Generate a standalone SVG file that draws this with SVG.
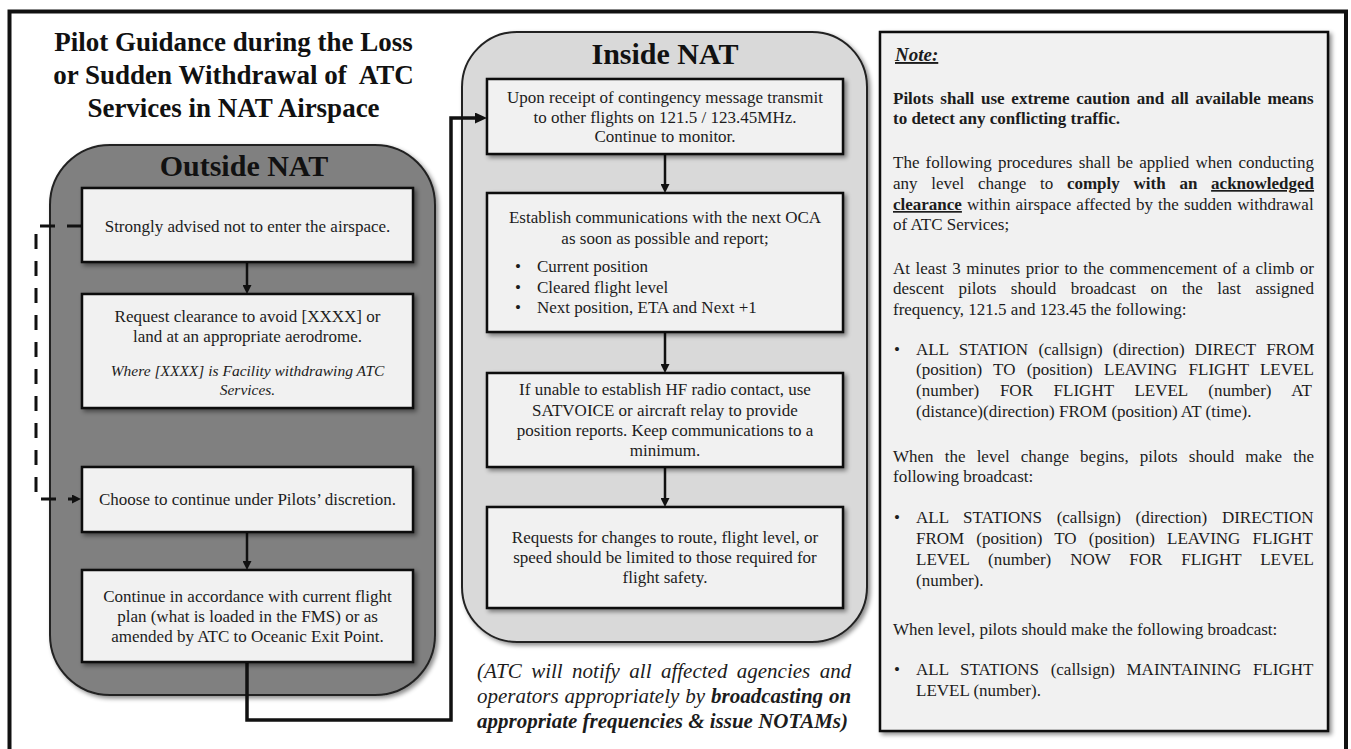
<svg xmlns="http://www.w3.org/2000/svg" width="1351" height="749" viewBox="0 0 1351 749">
<style>
.t{font-family:"Liberation Serif","Times New Roman",serif;fill:#1c1c1c;font-size:17px}
.b{font-weight:bold}
.i{font-style:italic}
.c{text-anchor:middle}
.h27{font-size:27px;fill:#111}
.h30{font-size:30px;fill:#111}
.s15{font-size:15.5px}
.s19{font-size:19px}
.s21{font-size:21px}
.box{fill:#f1f1f1;stroke:#111;stroke-width:2.5;filter:url(#sh)}
.cn{fill:none;stroke:#111;stroke-linejoin:miter}
.u{text-decoration:underline}
</style>
<defs>
<filter id="sh" x="-10%" y="-10%" width="130%" height="130%">
<feDropShadow dx="2.5" dy="2.5" stdDeviation="2" flood-color="#000" flood-opacity="0.45"/>
</filter>
<marker id="sa" viewBox="0 0 9 9" markerWidth="9" markerHeight="9" refX="1" refY="4.5" orient="auto" markerUnits="userSpaceOnUse">
<path d="M0,0 L9,4.5 L0,9 z" fill="#111"/>
</marker>
<marker id="la" viewBox="0 0 12 11" markerWidth="12" markerHeight="11" refX="1" refY="5.5" orient="auto" markerUnits="userSpaceOnUse">
<path d="M0,0 L12,5.5 L0,11 z" fill="#111"/>
</marker>
</defs>
<rect width="1351" height="749" fill="#fff"/>
<rect id="frame" x="9.5" y="11.5" width="1336.5" height="800" fill="none" stroke="#111" stroke-width="4"/>

<g id="title">
<text class="t b c h27" x="233.5" y="51">Pilot Guidance during the Loss</text>
<text class="t b c h27" x="233.5" y="84" xml:space="preserve">or Sudden Withdrawal of  ATC</text>
<text class="t b c h27" x="233.5" y="117">Services in NAT Airspace</text>
</g>

<g id="outside-nat">
<rect x="50" y="145" width="385" height="550" rx="60" ry="60" fill="#808080" stroke="#222" stroke-width="2" filter="url(#sh)"/>
<text class="t b c h30" x="244" y="176">Outside NAT</text>
</g>

<g id="inside-nat">
<rect x="462" y="32" width="405" height="610" rx="55" ry="55" fill="#d9d9d9" stroke="#222" stroke-width="2" filter="url(#sh)"/>
<text class="t b c h30" x="665" y="64">Inside NAT</text>
</g>

<g id="connectors">
<path class="cn" d="M247,262 V286" stroke-width="2.5" marker-end="url(#sa)"/>
<path class="cn" d="M247,532 V562" stroke-width="2.5" marker-end="url(#sa)"/>
<path class="cn" d="M665,154 V185" stroke-width="2.5" marker-end="url(#sa)"/>
<path class="cn" d="M665,332 V365" stroke-width="2.5" marker-end="url(#sa)"/>
<path class="cn" d="M665,467 V499" stroke-width="2.5" marker-end="url(#sa)"/>
<path class="cn" d="M82,226 H36 V499 H73" stroke-width="3" stroke-dasharray="15 12" marker-end="url(#sa)"/>
<path class="cn" d="M247,662 V720 H451 V118 H476" stroke-width="3.5" marker-end="url(#la)"/>
</g>

<g id="o1">
<rect class="box" x="82" y="188" width="331" height="74"/>
<text class="t c" x="247.5" y="232">Strongly advised not to enter the airspace.</text>
</g>
<g id="o2">
<rect class="box" x="82" y="294" width="331" height="114"/>
<text class="t c" x="247.5" y="322">Request clearance to avoid [XXXX] or</text>
<text class="t c" x="247.5" y="342">land at an appropriate aerodrome.</text>
<text class="t c i s15" x="247.5" y="376">Where [XXXX] is Facility withdrawing ATC</text>
<text class="t c i s15" x="247.5" y="395">Services.</text>
</g>
<g id="o3">
<rect class="box" x="82" y="467" width="331" height="65"/>
<text class="t c" x="247.5" y="505">Choose to continue under Pilots’ discretion.</text>
</g>
<g id="o4">
<rect class="box" x="82" y="570" width="331" height="92"/>
<text class="t c" x="247.5" y="602">Continue in accordance with current flight</text>
<text class="t c" x="247.5" y="622">plan (what is loaded in the FMS) or as</text>
<text class="t c" x="247.5" y="642">amended by ATC to Oceanic Exit Point.</text>
</g>

<g id="i1">
<rect class="box" x="487" y="79" width="356" height="75"/>
<text class="t c" x="665" y="103">Upon receipt of contingency message transmit</text>
<text class="t c" x="665" y="123">to other flights on 121.5 / 123.45MHz.</text>
<text class="t c" x="665" y="142">Continue to monitor.</text>
</g>
<g id="i2">
<rect class="box" x="487" y="193" width="356" height="139"/>
<text class="t c" x="665" y="223">Establish communications with the next OCA</text>
<text class="t c" x="665" y="244">as soon as possible and report;</text>
<text class="t" x="515" y="272">•</text><text class="t" x="537" y="272">Current position</text>
<text class="t" x="515" y="293">•</text><text class="t" x="537" y="293">Cleared flight level</text>
<text class="t" x="515" y="313">•</text><text class="t" x="537" y="313">Next position, ETA and Next +1</text>
</g>
<g id="i3">
<rect class="box" x="487" y="373" width="356" height="94"/>
<text class="t c" x="665" y="395">If unable to establish HF radio contact, use</text>
<text class="t c" x="665" y="415.5">SATVOICE or aircraft relay to provide</text>
<text class="t c" x="665" y="436">position reports. Keep communications to a</text>
<text class="t c" x="665" y="456">minimum.</text>
</g>
<g id="i4">
<rect class="box" x="487" y="507" width="356" height="101"/>
<text class="t c" x="665" y="543">Requests for changes to route, flight level, or</text>
<text class="t c" x="665" y="563">speed should be limited to those required for</text>
<text class="t c" x="665" y="583">flight safety.</text>
</g>

<g id="atc-note">
<text class="t i s21" x="477" y="678" word-spacing="4.17">(ATC will notify all affected agencies and</text>
<text class="t i s21" x="477" y="703" word-spacing="0.7">operators appropriately by <tspan class="b">broadcasting on</tspan></text>
<text class="t i b s21" x="477" y="728">appropriate frequencies &amp; issue NOTAMs)</text>
</g>

<g id="note">
<rect class="box" x="880" y="32" width="448" height="699" stroke-width="2.5"/>
<text class="t b i u s19" x="895" y="61">Note:</text>
<text class="t b" x="893" y="104" word-spacing="2.45">Pilots shall use extreme caution and all available means</text>
<text class="t b" x="893" y="124">to detect any conflicting traffic.</text>
<text class="t" x="893" y="168" word-spacing="1.93">The following procedures shall be applied when conducting</text>
<text class="t" x="893" y="189" word-spacing="9.49">any level change to <tspan class="b">comply with an </tspan><tspan class="b u">acknowledged</tspan></text>
<text class="t" x="893" y="210" word-spacing="0.86"><tspan class="b u">clearance</tspan> within airspace affected by the sudden withdrawal</text>
<text class="t" x="893" y="230">of ATC Services;</text>
<text class="t" x="893" y="274" word-spacing="1.32">At least 3 minutes prior to the commencement of a climb or</text>
<text class="t" x="893" y="294" word-spacing="10.3">descent pilots should broadcast on the last assigned</text>
<text class="t" x="893" y="315">frequency, 121.5 and 123.45 the following:</text>
<text class="t" x="894" y="355">•</text>
<text class="t" x="916" y="355" word-spacing="6">ALL STATION (callsign) (direction) DIRECT FROM</text>
<text class="t" x="916" y="375" word-spacing="7">(position) TO (position) LEAVING FLIGHT LEVEL</text>
<text class="t" x="916" y="396" word-spacing="16.4">(number) FOR FLIGHT LEVEL (number) AT</text>
<text class="t" x="916" y="417">(distance)(direction) FROM (position) AT (time).</text>
<text class="t" x="893" y="462" word-spacing="6.89">When the level change begins, pilots should make the</text>
<text class="t" x="893" y="482">following broadcast:</text>
<text class="t" x="894" y="523">•</text>
<text class="t" x="916" y="523" word-spacing="10.4">ALL STATIONS (callsign) (direction) DIRECTION</text>
<text class="t" x="916" y="544" word-spacing="7.9">FROM (position) TO (position) LEAVING FLIGHT</text>
<text class="t" x="916" y="565" word-spacing="14.6">LEVEL (number) NOW FOR FLIGHT LEVEL</text>
<text class="t" x="916" y="586">(number).</text>
<text class="t" x="893" y="635">When level, pilots should make the following broadcast:</text>
<text class="t" x="894" y="675">•</text>
<text class="t" x="916" y="675" word-spacing="7.4">ALL STATIONS (callsign) MAINTAINING FLIGHT</text>
<text class="t" x="916" y="696">LEVEL (number).</text>
</g>
</svg>
